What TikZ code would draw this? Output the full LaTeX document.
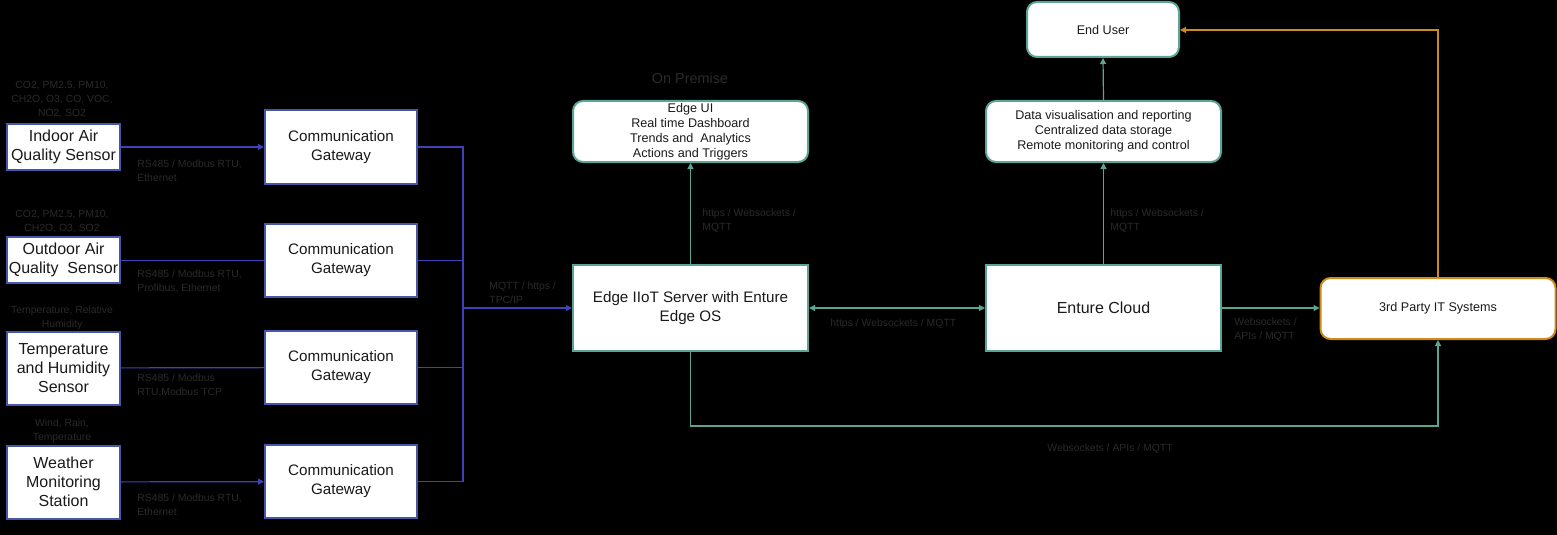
\documentclass[tikz,border=0pt]{standalone}
\usepackage{fontspec}
\setmainfont{Liberation Sans}
\usetikzlibrary{arrows.meta}
\definecolor{bluebox}{HTML}{4656A8}
\definecolor{blueline}{HTML}{4040B8}
\definecolor{tealc}{HTML}{5AA596}
\definecolor{orangec}{HTML}{D08A1C}
\definecolor{lblgray}{HTML}{2A2A2A}
\definecolor{txt}{HTML}{1A1A1A}
\begin{document}
\begin{tikzpicture}[x=0.5pt,y=-0.5pt,
  sensor/.style={draw=bluebox, line width=1pt, fill=white, align=center, text=txt,
    font=\fontsize{8}{9.5}\selectfont, minimum width=56.5pt, inner sep=0pt},
  gateway/.style={draw=bluebox, line width=1pt, fill=white, align=center, text=txt,
    font=\fontsize{7.6}{9.5}\selectfont, minimum width=76pt, minimum height=36.5pt, inner sep=0pt},
  bigbox/.style={draw=tealc, line width=1pt, fill=white, align=center, text=txt,
    font=\fontsize{7.6}{9.5}\selectfont, minimum width=117.5pt, minimum height=43pt, inner sep=0pt},
  roundbox/.style={draw=tealc, line width=1pt, fill=white, align=center, text=txt, rounded corners=5pt,
    font=\fontsize{6.3}{7.5}\selectfont, inner sep=0pt},
  lbl/.style={text=lblgray, font=\fontsize{5.2}{7}\selectfont, inner sep=0pt},
  bl/.style={draw=blueline, line width=0.6pt},
  tl/.style={draw=tealc, line width=0.6pt},
  ol/.style={draw=orangec, line width=0.6pt},
  tip/.style={-{Triangle[length=3pt,width=3pt]}},
  dtip/.style={{Triangle[length=3pt,width=3pt]}-{Triangle[length=3pt,width=3pt]}}
]
\useasboundingbox (0,0) rectangle (1557,535);
\fill[black] (0,0) rectangle (1557,535);

% sensors
\node[sensor, minimum height=23pt] (s1) at (63.5,147) {Indoor Air\\Quality Sensor};
\node[sensor, minimum height=23pt] (s2) at (63.5,260) {Outdoor Air\\Quality\ \ Sensor};
\node[sensor, minimum height=36.5pt] (s3) at (63.5,368) {Temperature\\and Humidity\\Sensor};
\node[sensor, minimum height=36.5pt] (s4) at (63.5,482) {Weather\\Monitoring\\Station};

% gateways
\node[gateway] (g1) at (341,147) {Communication\\Gateway};
\node[gateway] (g2) at (341,260.5) {Communication\\Gateway};
\node[gateway] (g3) at (341,367.5) {Communication\\Gateway};
\node[gateway] (g4) at (341,481.5) {Communication\\Gateway};

% main boxes
\node[bigbox] (srv) at (690.5,308) {Edge IIoT Server with Enture\\Edge OS};
\node[bigbox, font=\fontsize{8}{9.5}\selectfont] (cloud) at (1103.5,308) {Enture Cloud};
\node[roundbox, minimum width=117.5pt, minimum height=30.5pt] (ui) at (690.5,131.5) {Edge UI\\Real time Dashboard\\Trends and\ \ Analytics\\Actions and Triggers};
\node[roundbox, minimum width=117.5pt, minimum height=30.5pt] (dv) at (1103.5,131.5) {Data visualisation and reporting\\Centralized data storage\\Remote monitoring and control};
\node[roundbox, minimum width=76pt, minimum height=27.5pt] (eu) at (1103,29.5) {End User};
\node[roundbox, draw=orangec, minimum width=117.5pt, minimum height=30.5pt] (tp) at (1438,308.5) {3rd Party IT Systems};

% sensor -> gateway
\draw[bl, tip] (s1) -- (g1);
\draw[bl] (s2.east |- g2) -- (g2);
\draw[bl] (s3) -- (g3);
\draw[bl, tip] (s4) -- (g4);

% bus
\coordinate (bt) at (463,147);
\coordinate (bb) at (463,481.5);
\coordinate (bm) at (463,308);
\draw[bl] (g1.east) -- (bt) -- (bb) -- (g4.east);
\draw[bl] (g2.east) -- (g2.east -| bt);
\draw[bl] (g3.east) -- (g3.east -| bt);
\draw[bl, tip] (bm) -- (srv.west);

% teal connectors
\draw[tl, tip] (srv.north) -- (ui.south);
\draw[tl, dtip] (srv.east) -- (cloud.west);
\draw[tl, tip] (cloud.north) -- (dv.south);
\draw[tl, tip] (dv.north) -- (eu.south);
\draw[tl, tip] (cloud.east) -- (cloud.east -| tp.west);
\coordinate (c1) at (690.5,426);
\coordinate (c2) at (1438,426);
\draw[tl, tip] (srv.south) -- (c1) -- (c2) -- (tp.south);

% orange
\coordinate (o1) at (1438,30);
\draw[ol, tip] (tp.north) -- (o1) -- (eu.east |- o1);

% labels
\node[lbl, align=center] at (62,100) {CO2, PM2.5, PM10,\\CH2O, O3, CO, VOC,\\NO2, SO2};
\node[lbl, align=center] at (62,222) {CO2, PM2.5, PM10,\\CH2O, O3, SO2};
\node[lbl, align=center] at (62,318) {Temperature, Relative\\Humidity};
\node[lbl, align=center] at (62,431) {Wind, Rain,\\Temperature};

\node[lbl, align=left, anchor=west] at (137,171) {RS485 / Modbus RTU,\\Ethernet};
\node[lbl, align=left, anchor=west] at (137,281) {RS485 / Modbus RTU,\\Profibus, Ethernet};
\node[lbl, align=left, anchor=west] at (137,385) {RS485 / Modbus\\RTU,Modbus TCP};
\node[lbl, align=left, anchor=west] at (137,505) {RS485 / Modbus RTU,\\Ethernet};

\node[lbl, align=left, anchor=west] at (489,293) {MQTT / https /\\TPC/IP};
\node[lbl, align=left, anchor=west] at (702,220.5) {https / Websockets /\\MQTT};
\node[lbl, align=left, anchor=west] at (1110,220.5) {https / Websockets /\\MQTT};
\node[lbl, anchor=west] at (830,324) {https / Websockets / MQTT};
\node[lbl, align=left, anchor=west] at (1234,330) {Websockets /\\APIs / MQTT};
\node[lbl] at (1110,449) {Websockets / APIs / MQTT};
\node[lbl, font=\fontsize{7.2}{8}\selectfont] at (690,78) {On Premise};
\end{tikzpicture}
\end{document}
